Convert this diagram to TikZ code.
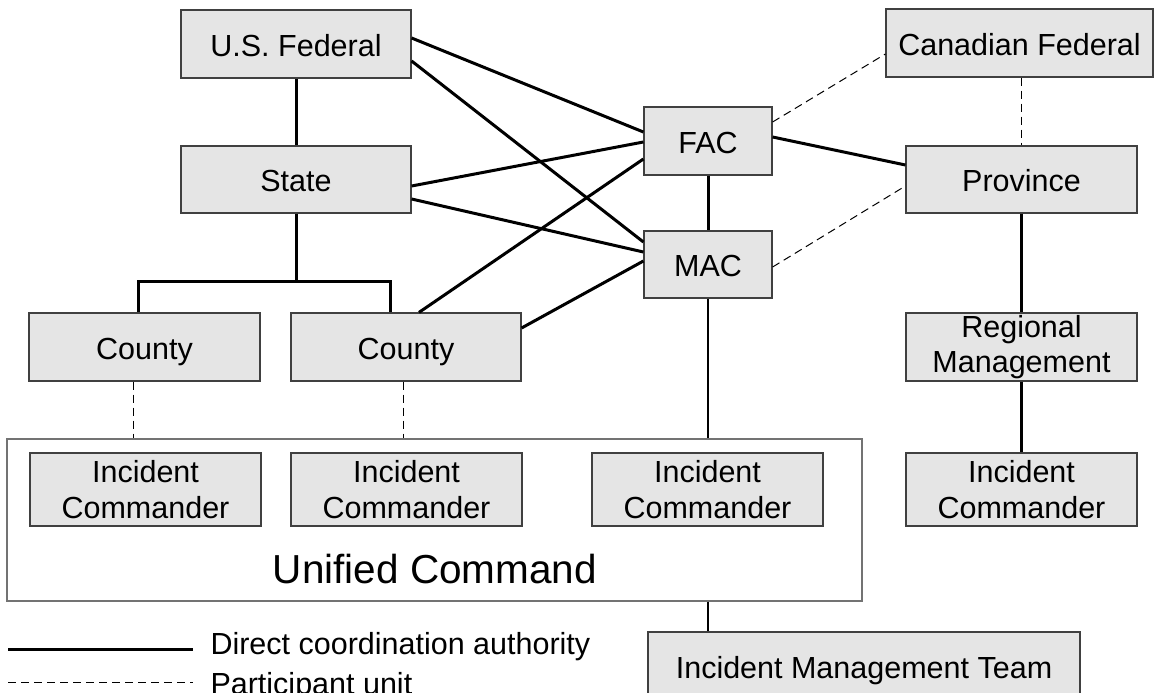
\documentclass[tikz,border=0pt]{standalone}
\usepackage{fontspec}
\setmainfont{Liberation Sans}
\begin{document}
\begin{tikzpicture}[x=1pt, y=1pt,
    font=\fontsize{30.5}{35.5}\selectfont,
    unit/.style={draw=black!75, line width=1.2pt, fill=black!10, inner sep=0pt, align=center},
    box/.style={unit, text height=24.5pt, text depth=0pt},
    auth/.style={line width=3pt},
    link/.style={line width=2.2pt},
    part/.style={line width=1pt, dash pattern=on 8pt off 5pt}
]
    \useasboundingbox (0,0) rectangle (1154,-693);

    % Unified command frame
    \node[draw=black!55, line width=1.2pt, minimum width=855pt, minimum height=162pt, inner sep=0pt] (uc) at (434.5,-520) {};
    \node[anchor=base, font=\fontsize{40.5}{48}\selectfont] (ucname) at (435,-583) {Unified Command};

    % U.S. side
    \node[box, minimum width=230pt, minimum height=68pt] (usfed) at (296,-44) {U.S. Federal};
    \node[box, minimum width=230pt, minimum height=67pt] (state) at (296,-179.5) {State};
    \node[box, minimum width=231pt, minimum height=68pt] (county1) at (144.5,-347) {County};
    \node[box, minimum width=230pt, minimum height=68pt] (county2) at (406,-347) {County};

    % Coordination centres
    \node[box, minimum width=128pt, minimum height=68pt] (fac) at (708,-141) {FAC};
    \node[box, minimum width=128pt, minimum height=67pt] (mac) at (708,-264.5) {MAC};

    % Canadian side
    \node[box, minimum width=267pt, minimum height=68pt] (canfed) at (1019.5,-43) {Canadian Federal};
    \node[box, minimum width=231pt, minimum height=67pt] (province) at (1021.5,-179.5) {Province};
    \node[unit, minimum width=231pt, minimum height=68pt] (regional) at (1021.5,-347) {Regional\\Management};
    \node[unit, minimum width=231pt, minimum height=73pt] (icca) at (1021.5,-489.5) {Incident\\Commander};

    % Incident commanders in the unified command
    \node[unit, minimum width=231pt, minimum height=73pt] (ic1) at (145.5,-489.5) {Incident\\Commander};
    \node[unit, minimum width=231pt, minimum height=73pt] (ic2) at (406.5,-489.5) {Incident\\Commander};
    \node[unit, minimum width=231pt, minimum height=73pt] (ic3) at (707.5,-489.5) {Incident\\Commander};

    % Incident management team
    \node[box, minimum width=432pt, minimum height=68pt] (imt) at (864,-666) {Incident Management Team};

    % Direct coordination authority
    \draw[auth] (usfed) -- (state);
    \draw[auth] ([yshift=6pt]usfed.east) -- ([yshift=9pt]fac.west);
    \draw[auth] ([yshift=-17pt]usfed.east) -- ([yshift=22.5pt]mac.west);
    \draw[auth] ([yshift=-6.5pt]state.east) -- ([yshift=-1pt]fac.west);
    \draw[auth] ([yshift=-19.5pt]state.east) -- ([yshift=12.5pt]mac.west);
    \draw[auth] ([xshift=13pt]county2.north) -- ([yshift=-18pt]fac.west);
    \draw[auth] ([yshift=19pt]county2.east) -- ([yshift=3.5pt]mac.west);
    \draw[auth] (fac) -- (mac);
    \draw[auth] ([yshift=4pt]fac.east) -- ([yshift=14.5pt]province.west);
    \draw[auth] (province) -- (regional);
    \draw[auth] (regional) -- (icca);
    \coordinate (fork) at (296,-281);
    \draw[auth] (state) -- (fork);
    \draw[auth] ([xshift=-6.5pt]county1.north) |- (fork) -| ([xshift=-16pt]county2.north);
    \draw[link] (mac) -- (mac |- uc.north);
    \draw[link] (uc.south -| mac) -- (imt.north -| mac);

    % Participant units
    \coordinate (c1foot) at ([xshift=-11.5pt]county1.south);
    \coordinate (c2foot) at ([xshift=-3pt]county2.south);
    \draw[part] (c1foot) -- (c1foot |- uc.north);
    \draw[part] (c2foot) -- (c2foot |- uc.north);
    \draw[part] ([yshift=19pt]fac.east) -- ([yshift=-11pt]canfed.west);
    \draw[part] ([yshift=-2.5pt]mac.east) -- ([yshift=-6.5pt]province.west);
    \draw[part] (canfed.south -| province.north) -- (province.north);

    % Legend
    \node[anchor=base west] (legauth) at (207,-654) {Direct coordination authority};
    \node[anchor=base west] (legpart) at (207,-694.5) {Participant unit};
    \draw[auth] (8,-649) -- (193,-649);
    \draw[part] (8,-682) -- (193,-682);
\end{tikzpicture}
\end{document}
